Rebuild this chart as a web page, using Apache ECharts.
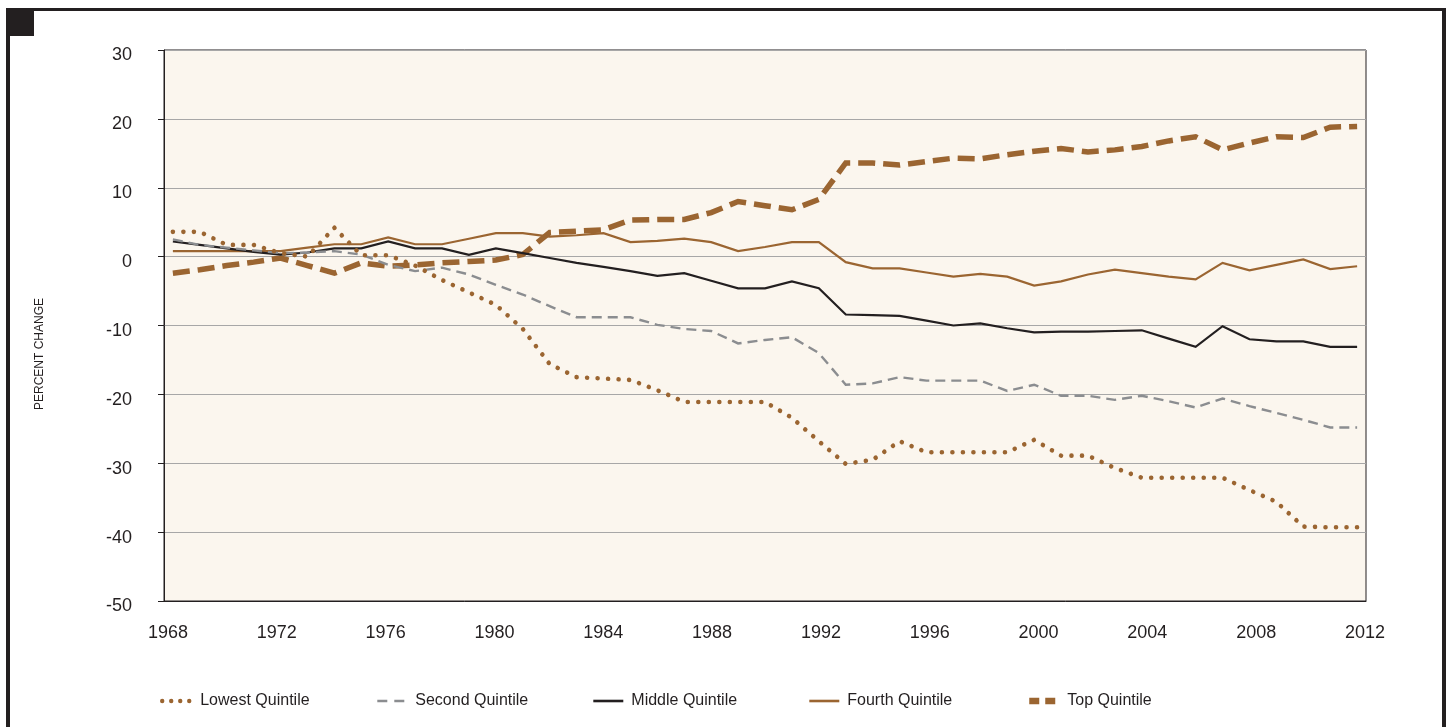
<!DOCTYPE html>
<html>
<head>
<meta charset="utf-8">
<script src="https://cdn.jsdelivr.net/npm/echarts@6/dist/echarts.min.js"></script>
<style>
html,body{margin:0;padding:0;background:#ffffff;}
#chart{width:1449px;height:727px;}
</style>
</head>
<body>
<div id="chart"></div>
<script>
const years = [1968,1969,1970,1971,1972,1973,1974,1975,1976,1977,1978,1979,1980,1981,1982,1983,1984,1985,1986,1987,1988,1989,1990,1991,1992,1993,1994,1995,1996,1997,1998,1999,2000,2001,2002,2003,2004,2005,2006,2007,2008,2009,2010,2011,2012];
const xTickLabels = [1968,1972,1976,1980,1984,1988,1992,1996,2000,2004,2008,2012];
const seriesNames = ['Lowest Quintile','Second Quintile','Middle Quintile','Fourth Quintile','Top Quintile'];

const lowest = [3.6,3.6,1.7,1.7,0.5,0.0,4.2,0.2,0.2,-1.3,-3.4,-5.2,-7.0,-10.5,-15.6,-17.5,-17.7,-17.9,-19.4,-21.1,-21.1,-21.1,-21.1,-23.4,-26.8,-30.1,-29.5,-26.8,-28.4,-28.4,-28.4,-28.4,-26.6,-28.9,-28.9,-30.7,-32.1,-32.1,-32.1,-32.1,-33.9,-35.6,-39.2,-39.3,-39.3];
const second = [2.5,1.7,1.3,0.9,0.5,0.6,0.8,0.3,-1.2,-2.1,-1.6,-2.6,-4.1,-5.5,-7.2,-8.8,-8.8,-8.8,-9.9,-10.5,-10.8,-12.6,-12.1,-11.7,-14.0,-18.6,-18.4,-17.5,-18.0,-18.0,-18.0,-19.5,-18.6,-20.2,-20.2,-20.8,-20.2,-21.0,-21.9,-20.6,-21.7,-22.7,-23.7,-24.8,-24.8];
const middle = [2.2,1.7,1.2,0.7,0.3,0.6,1.2,1.2,2.2,1.2,1.2,0.25,1.2,0.5,-0.2,-0.9,-1.5,-2.1,-2.8,-2.4,-3.5,-4.6,-4.6,-3.6,-4.6,-8.4,-8.5,-8.6,-9.3,-10.0,-9.7,-10.4,-11.0,-10.9,-10.9,-10.8,-10.7,-11.9,-13.1,-10.1,-12.0,-12.3,-12.3,-13.1,-13.1];
const fourth = [0.8,0.8,0.8,0.8,0.8,1.3,1.8,1.8,2.8,1.8,1.8,2.6,3.4,3.4,2.9,3.1,3.4,2.1,2.3,2.6,2.1,0.8,1.4,2.1,2.1,-0.8,-1.7,-1.7,-2.3,-2.9,-2.5,-2.9,-4.2,-3.6,-2.6,-1.9,-2.4,-2.9,-3.3,-0.9,-2.0,-1.2,-0.4,-1.8,-1.4];
const top5 = [-2.4,-1.9,-1.3,-0.8,-0.2,-1.3,-2.4,-0.9,-1.4,-1.2,-0.9,-0.7,-0.5,0.3,3.5,3.7,3.9,5.3,5.4,5.4,6.4,8.0,7.4,6.8,8.3,13.6,13.6,13.3,13.8,14.3,14.2,14.8,15.3,15.7,15.2,15.5,16.0,16.8,17.4,15.5,16.5,17.4,17.3,18.8,18.9];

const BROWN = '#9b6531';
const DARK = '#231f20';
const GRAY = '#8b8d90';
const FONT = '"Liberation Sans", Arial, Helvetica, sans-serif';

function pairs(vals){ return years.map((y,i)=>[y, vals[i]]); }

const styles = [
  {color: BROWN, width: 4.6, type: [0.01, 10.5], cap: 'round'},
  {color: GRAY, width: 2.4, type: [10, 6], cap: 'butt'},
  {color: DARK, width: 2.2, type: 'solid', cap: 'butt'},
  {color: BROWN, width: 2.2, type: 'solid', cap: 'butt'},
  {color: BROWN, width: 5.5, type: [17, 8], cap: 'butt'}
];
const legendLine = [
  {width: 4.4, type: [0.01, 9], cap: 'round'},
  {width: 2.6, type: [10, 7], cap: 'butt'},
  {width: 2.6, type: 'solid', cap: 'butt'},
  {width: 2.6, type: 'solid', cap: 'butt'},
  {width: 6.5, type: [10, 6], cap: 'butt'}
];
const legendLeft = [160, 376, 592, 808, 1026];
const valueSets = [lowest, second, middle, fourth, top5];

const chart = echarts.init(document.getElementById('chart'), null, {renderer: 'canvas'});
chart.setOption({
  animation: false,
  backgroundColor: '#ffffff',
  textStyle: {fontFamily: FONT},
  grid: {
    left: 164, right: 83, top: 50, bottom: 126,
    show: true, backgroundColor: '#fbf6ee', borderColor: DARK, borderWidth: 1
  },
  xAxis: [{
    type: 'value', min: 1967.67, max: 2012.33,
    axisLine: {show: true, onZero: false, lineStyle: {color: DARK, width: 1}},
    axisTick: {show: false},
    splitLine: {show: false},
    axisLabel: {show: false}
  }, {
    type: 'value', min: 1967.853, max: 2012.037, position: 'bottom', offset: 0,
    axisLine: {show: false},
    axisTick: {show: false},
    splitLine: {show: false},
    axisLabel: {
      customValues: xTickLabels, color: DARK, fontSize: 18, fontFamily: FONT, margin: 23,
      formatter: v => String(v)
    }
  }],
  yAxis: {
    type: 'value', min: -50, max: 30, interval: 10,
    axisLine: {show: true, lineStyle: {color: DARK, width: 1}},
    axisTick: {show: true, length: 6, lineStyle: {color: DARK, width: 1}},
    splitLine: {show: true, lineStyle: {color: '#a7a7a7', width: 1.2}},
    axisLabel: {color: DARK, fontSize: 18, fontFamily: FONT, margin: 32, verticalAlign: 'top', lineHeight: 11}
  },
  legend: seriesNames.map((n, i) => ({
    left: legendLeft[i], top: 693, padding: 0, itemWidth: 30, itemHeight: 14,
    textStyle: {color: DARK, fontSize: 16, fontFamily: FONT, padding: [0, 0, 0, 3]},
    itemStyle: {opacity: 0, color: 'transparent', borderWidth: 0},
    data: [{name: n, lineStyle: {color: styles[i].color, width: legendLine[i].width, type: legendLine[i].type, cap: legendLine[i].cap}}]
  })),
  graphic: [
    {type: 'rect', silent: true, z: 100, shape: {x: 6, y: 8, width: 1440, height: 3}, style: {fill: DARK}},
    {type: 'rect', silent: true, z: 100, shape: {x: 6, y: 8, width: 4, height: 719}, style: {fill: DARK}},
    {type: 'rect', silent: true, z: 100, shape: {x: 1442, y: 8, width: 4, height: 719}, style: {fill: DARK}},
    {type: 'rect', silent: true, z: 100, shape: {x: 10, y: 10, width: 24, height: 26}, style: {fill: DARK}},
    {type: 'text', silent: true, z: 100, x: 40, y: 354, rotation: Math.PI/2,
      style: {text: 'PERCENT CHANGE', fill: DARK, font: '12px ' + FONT, align: 'center', verticalAlign: 'middle'}}
  ],
  series: valueSets.map((vals, i) => ({
    name: seriesNames[i], type: 'line', data: pairs(vals), xAxisIndex: 0,
    symbol: 'none', showSymbol: false, smooth: false, z: 10 - i,
    lineStyle: {color: styles[i].color, width: styles[i].width, type: styles[i].type, cap: styles[i].cap, join: 'miter'},
    itemStyle: {color: styles[i].color}
  }))
});
</script>
</body>
</html>
